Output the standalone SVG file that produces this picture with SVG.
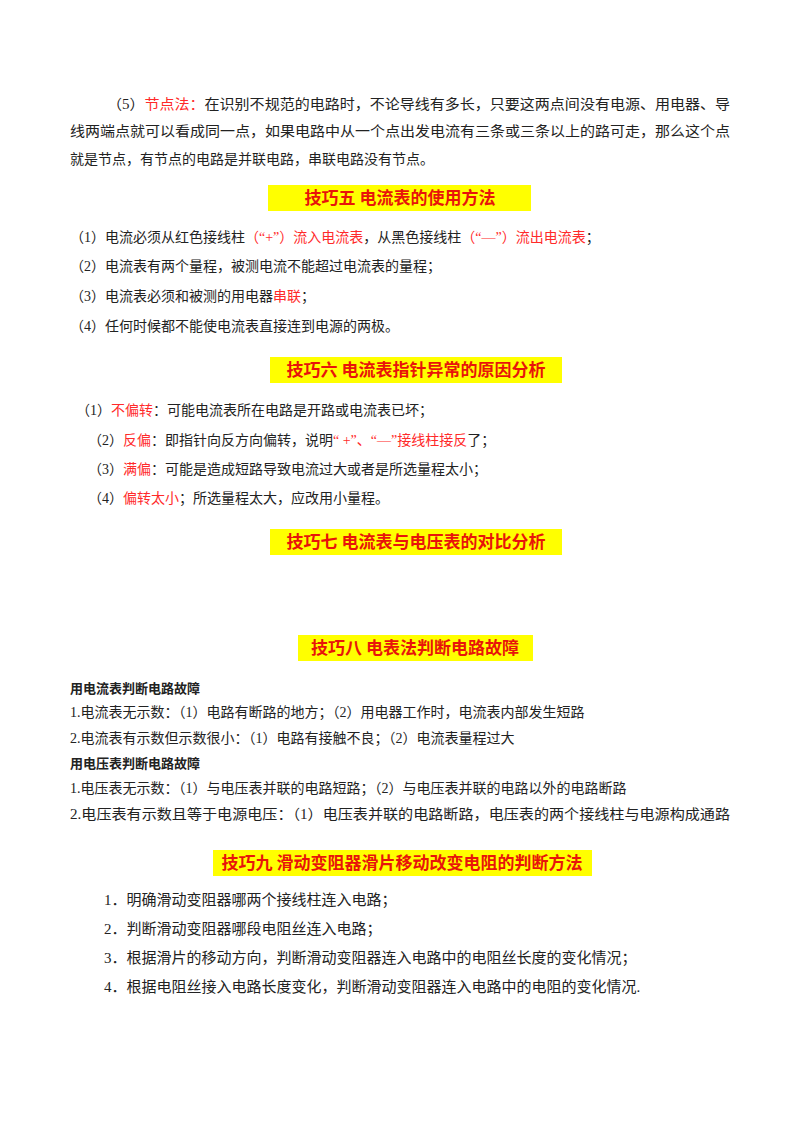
<svg xmlns="http://www.w3.org/2000/svg" width="800" height="1132" viewBox="0 0 800 1132">
<style>
text{font-family:"Liberation Serif","Noto Sans CJK SC",serif;font-size:14px;fill:#222}
.r{fill:#ff2a2a}
.h{font-family:"Noto Sans CJK SC",sans-serif;font-weight:bold;font-size:17px;fill:#e8140a;text-anchor:middle}
.hb{fill:#ffff00}
.b{font-family:"Noto Sans CJK SC",sans-serif;font-weight:bold;font-size:13px}
.l{font-size:15px}
</style>
<rect width="800" height="1132" fill="#fff"/>
<text x="107" y="109" textLength="623" lengthAdjust="spacingAndGlyphs">（5）<tspan class="r">节点法：</tspan>在识别不规范的电路时，不论导线有多长，只要这两点间没有电源、用电器、导</text>
<text x="70" y="136" textLength="660" lengthAdjust="spacingAndGlyphs">线两端点就可以看成同一点，如果电路中从一个点出发电流有三条或三条以上的路可走，那么这个点</text>
<text x="70" y="164">就是节点，有节点的电路是并联电路，串联电路没有节点。</text>
<g id="h5"><rect class="hb" x="268" y="185" width="263" height="26"/><text class="h" x="400" y="204">技巧五  电流表的使用方法</text></g>
<text x="70" y="242">（1）电流必须从红色接线柱<tspan class="r">（“+”）流入电流表</tspan>，从黑色接线柱<tspan class="r">（“—”）流出电流表</tspan>；</text>
<text x="70" y="271">（2）电流表有两个量程，被测电流不能超过电流表的量程；</text>
<text x="70" y="301">（3）电流表必须和被测的用电器<tspan class="r">串联</tspan>；</text>
<text x="70" y="331">（4）任何时候都不能使电流表直接连到电源的两极。</text>
<g id="h6"><rect class="hb" x="270" y="357" width="292" height="26"/><text class="h" x="416" y="376">技巧六  电流表指针异常的原因分析</text></g>
<text x="76" y="415">（1）<tspan class="r">不偏转</tspan>：可能电流表所在电路是开路或电流表已坏；</text>
<text x="88" y="445">（2）<tspan class="r">反偏</tspan>：即指针向反方向偏转，说明<tspan class="r">“ +”、“—”接线柱接反</tspan>了；</text>
<text x="88" y="474">（3）<tspan class="r">满偏</tspan>：可能是造成短路导致电流过大或者是所选量程太小；</text>
<text x="88" y="503">（4）<tspan class="r">偏转太小</tspan>；所选量程太大，应改用小量程。</text>
<g id="h7"><rect class="hb" x="270" y="529" width="292" height="26"/><text class="h" x="416" y="548">技巧七  电流表与电压表的对比分析</text></g>
<g id="h8"><rect class="hb" x="298" y="635" width="235" height="26"/><text class="h" x="415" y="654">技巧八  电表法判断电路故障</text></g>
<text class="b" x="70" y="693">用电流表判断电路故障</text>
<text x="70" y="717">1.电流表无示数：（1）电路有断路的地方；（2）用电器工作时，电流表内部发生短路</text>
<text x="70" y="743">2.电流表有示数但示数很小：（1）电路有接触不良；（2）电流表量程过大</text>
<text class="b" x="70" y="768">用电压表判断电路故障</text>
<text x="70" y="793">1.电压表无示数：（1）与电压表并联的电路短路；（2）与电压表并联的电路以外的电路断路</text>
<text x="70" y="819" textLength="660" lengthAdjust="spacingAndGlyphs">2.电压表有示数且等于电源电压：（1）电压表并联的电路断路，电压表的两个接线柱与电源构成通路</text>
<g id="h9"><rect class="hb" x="213" y="850" width="379" height="26"/><text class="h" x="402" y="869">技巧九  滑动变阻器滑片移动改变电阻的判断方法</text></g>
<text class="l" x="104" y="905">1．明确滑动变阻器哪两个接线柱连入电路；</text>
<text class="l" x="104" y="934">2．判断滑动变阻器哪段电阻丝连入电路；</text>
<text class="l" x="104" y="963">3．根据滑片的移动方向，判断滑动变阻器连入电路中的电阻丝长度的变化情况；</text>
<text class="l" x="104" y="992">4．根据电阻丝接入电路长度变化，判断滑动变阻器连入电路中的电阻的变化情况.</text>
</svg>
